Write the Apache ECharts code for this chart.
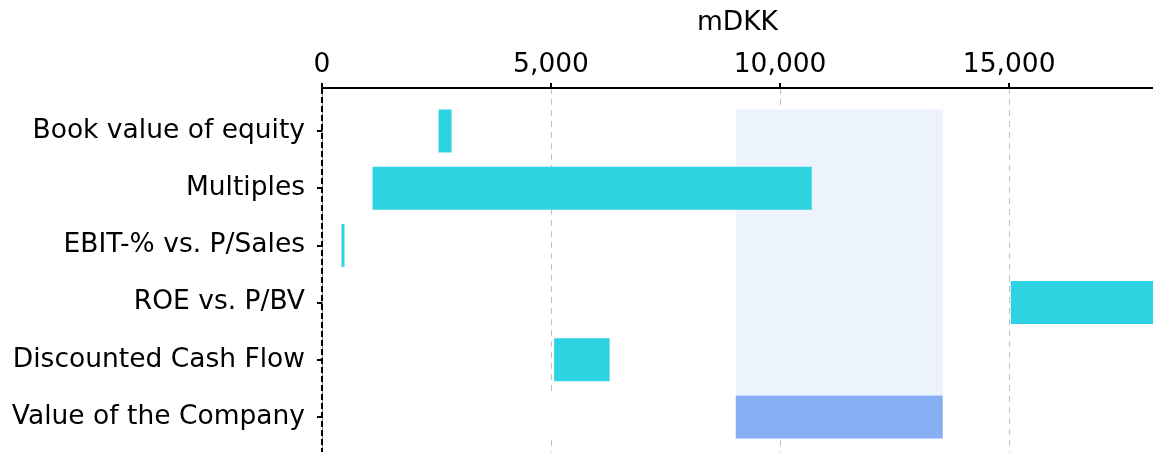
<!DOCTYPE html>
<html>
<head>
<meta charset="utf-8">
<script src="https://cdn.jsdelivr.net/npm/echarts@6/dist/echarts.min.js"></script>
<style>
html,body{margin:0;padding:0;background:#fff;}
#chart{width:1153px;height:452px;}
</style>
</head>
<body>
<div id="chart"></div>
<script>
// ---- data ----
var categories = ['Book value of equity', 'Multiples', 'EBIT-% vs. P/Sales', 'ROE vs. P/BV', 'Discounted Cash Flow', 'Value of the Company'];
var lowValues  = [2544, 1103, 426, 15036, 5067, 9031];
var highValues = [2828, 10691, 491, 18140, 6279, 13550];
var axisMax = 18140;
var axisInterval = 5000;
var axisName = 'mDKK';
var companyIndex = 5; // "Value of the Company" row
// ---------------

var FONT = 'DejaVu Sans';
var FS = 26.5;
var CYAN = '#2DD3E1', BLUE = '#86AFF3', BAND = '#ECF3FD';

var baseData = lowValues.map(function (v, i) {
  return { value: v, itemStyle: { color: i === companyIndex ? '#ffffff' : 'rgba(0,0,0,0)' } };
});
var rangeData = highValues.map(function (v, i) {
  return { value: v - lowValues[i], itemStyle: { color: i === companyIndex ? BLUE : CYAN } };
});

var chart = echarts.init(document.getElementById('chart'), null, { renderer: 'canvas' });
chart.setOption({
  animation: false,
  backgroundColor: '#fff',
  grid: [
    { left: 322, right: 0, top: 88, height: 372, containLabel: false, outerBoundsMode: 'none' },
    { left: 322, right: 0, top: 102.4, height: 343.2, containLabel: false, outerBoundsMode: 'none' }
  ],
  xAxis: [
    {
      gridIndex: 0, type: 'value', position: 'top', min: 0, max: axisMax, interval: axisInterval,
      z: 1,
      name: axisName, nameLocation: 'middle', nameGap: 51,
      nameTextStyle: { fontFamily: FONT, fontSize: FS, color: '#000' },
      axisLine: { show: true, onZero: false, lineStyle: { color: '#000', width: 2 } },
      axisTick: { show: true, length: 5, lineStyle: { color: '#000', width: 2 } },
      axisLabel: { fontFamily: FONT, fontSize: FS, color: '#000', margin: 9, showMaxLabel: false },
      splitLine: { show: true, lineStyle: { color: '#c2c2c2', type: [6, 5], width: 1 } }
    },
    {
      gridIndex: 1, type: 'value', min: 0, max: axisMax, show: false
    }
  ],
  yAxis: [
    {
      gridIndex: 0, type: 'value', min: -0.75, max: 5.75, inverse: true, z: 3,
      axisLine: { show: true, onZero: false, lineStyle: { color: '#888', width: 1 } },
      axisTick: { show: false }, axisLabel: { show: false }, splitLine: { show: false }
    },
    {
      gridIndex: 1, type: 'category', data: categories, inverse: true, z: 3,
      axisLine: { show: false },
      axisTick: { show: true, alignWithLabel: true, length: 5, lineStyle: { color: '#000', width: 2 } },
      axisLabel: { fontFamily: FONT, fontSize: FS, color: '#000', margin: 17 },
      splitLine: { show: false }
    }
  ],
  series: [
    {
      type: 'line', xAxisIndex: 0, yAxisIndex: 0, data: [], z: 0, silent: true,
      markArea: {
        silent: true,
        itemStyle: { color: BAND },
        data: [[
          { xAxis: lowValues[companyIndex], yAxis: -0.375 },
          { xAxis: highValues[companyIndex], yAxis: companyIndex - 0.375 }
        ]]
      }
    },
    {
      type: 'line', xAxisIndex: 0, yAxisIndex: 0, data: [], z: 1.5, silent: true,
      markLine: {
        silent: true, symbol: 'none', label: { show: false },
        lineStyle: { color: '#000', type: [6, 3], width: 2 },
        data: [{ xAxis: 0 }]
      }
    },
    {
      type: 'bar', xAxisIndex: 1, yAxisIndex: 1, stack: 'r', barWidth: 43, z: 2,
      data: baseData, silent: true
    },
    {
      type: 'bar', xAxisIndex: 1, yAxisIndex: 1, stack: 'r', barWidth: 43, z: 2,
      data: rangeData
    }
  ]
});
</script>
</body>
</html>
